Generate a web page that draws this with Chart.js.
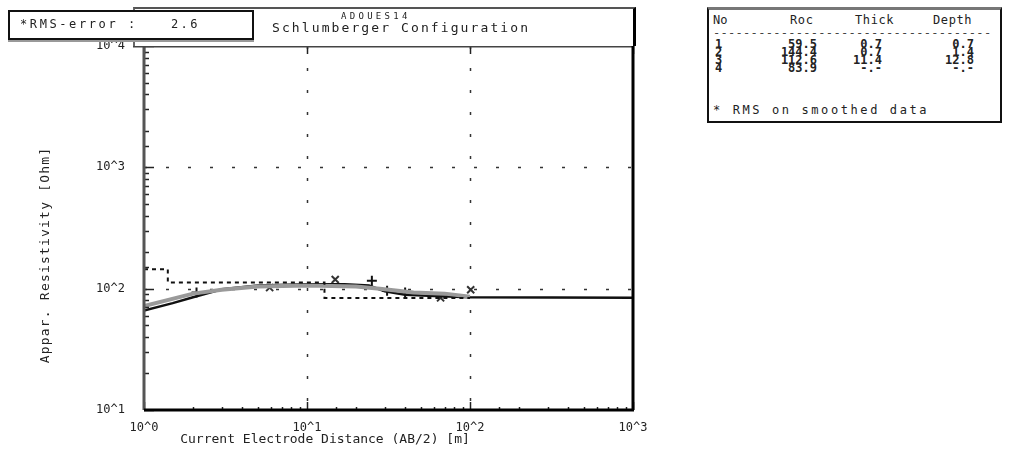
<!DOCTYPE html>
<html>
<head>
<meta charset="utf-8">
<script src="https://cdn.jsdelivr.net/npm/chart.js@4.4.1/dist/chart.umd.min.js"></script>
<style>
    body { margin: 0; background: #fff; }
    #wrap { position: relative; width: 1011px; height: 450px; overflow: hidden;
            font-family: "DejaVu Sans Mono", monospace; color: #222; }
    #wrap canvas { position: absolute; left: 0; top: 0; }
    .abs { position: absolute; white-space: pre; }
    #head { left: 133px; top: 7px; width: 498px; height: 37px; background: #fff;
            border-top: 2px solid #555; border-left: 2px solid #666; border-right: 3px solid #000; }
    #rms { left: 8px; top: 10px; width: 242px; height: 26px; background: #fff;
           border: 2px solid #111; box-shadow: 0 2px 0 #999; }
    #table { left: 707px; top: 7px; width: 291px; height: 111px; background: #fff;
             border-top: 3px solid #777; border-left: 2px solid #111; border-right: 2px solid #111; border-bottom: 2px solid #111; }
</style>
</head>
<body>
<div id="wrap">
    <canvas id="chart" width="1011" height="450"></canvas>
    <div id="head" class="abs">
        <div class="abs" style="left:206px;top:2px;font-size:9px;letter-spacing:3.3px;">ADOUES14</div>
        <div class="abs" style="left:137px;top:11px;font-size:13px;letter-spacing:2.1px;">Schlumberger Configuration</div>
    </div>
    <div id="rms" class="abs">
        <div class="abs" style="left:10px;top:5px;font-size:12px;letter-spacing:2.6px;">*RMS-error :</div>
        <div class="abs" style="left:161px;top:5px;font-size:12px;letter-spacing:2.4px;">2.6</div>
    </div>
    <div id="table" class="abs"></div>
</div>
<script>
// Layer model (from the result table)
const layerNo = [1, 2, 3, 4];
const layerRes = [59.5, 144.4, 112.6, 83.9];
const layerThick = [0.7, 0.7, 11.4, null];
const layerDepth = [0.7, 1.4, 12.8, null];

// Calculated sounding curve
const modelAB = [1, 1.5, 2, 3, 5, 10, 17, 24, 30, 40, 60, 100, 1000];
const modelRho = [66, 76, 85, 99, 106, 109, 109, 106, 95, 89, 87, 85, 84];

// Smoothed field data
const smoothAB = [1, 2, 3, 5, 10, 20, 28, 45, 70, 100];
const smoothRho = [72, 91, 98, 104, 106, 104, 100, 93, 91, 86];

// Measured points
const crossAB = [5.9, 14.9, 66, 101];
const crossRho = [102, 119, 84, 98];
const plusAB = [2.1, 25, 31, 40];
const plusRho = [93, 116, 96, 93];

const xTickText = ['10^0', '10^1', '10^2', '10^3'];
const yTickText = ['10^1', '10^2', '10^3', '10^4'];

const FONT = '"DejaVu Sans Mono", monospace';

function pts(xs, ys) {
    return xs.map((v, i) => ({ x: v, y: ys[i] }));
}

function isDecade(v) {
    const e = Math.log10(v);
    return Math.abs(e - Math.round(e)) < 1e-9;
}

// Step line of the layered model, starting at AB/2 = 1
function layerSteps() {
    const out = [];
    let k = 0;
    while (layerDepth[k] != null && layerDepth[k] <= 1) k++;
    out.push({ x: 1, y: layerRes[k] });
    for (let i = k; i < layerDepth.length; i++) {
        if (layerDepth[i] == null) break;
        out.push({ x: layerDepth[i], y: layerRes[i + 1] });
    }
    out.push({ x: 100, y: layerRes[layerRes.length - 1] });
    return out;
}

// Result table
(function buildTable() {
    const t = document.getElementById('table');
    let html = '';
    html += '<div class="abs" style="left:4px;top:3px;font-size:12px;">No</div>';
    html += '<div class="abs" style="left:81px;top:3px;font-size:12px;letter-spacing:0.6px;">Roc</div>';
    html += '<div class="abs" style="left:146px;top:3px;font-size:12px;letter-spacing:0.6px;">Thick</div>';
    html += '<div class="abs" style="left:224px;top:3px;font-size:12px;letter-spacing:0.6px;">Depth</div>';
    html += '<div class="abs" style="left:4px;top:16px;font-size:12px;letter-spacing:0.3px;color:#444;">' + '-'.repeat(37) + '</div>';
    const fmt = v => v == null ? '-.-' : v.toFixed(1);
    layerNo.forEach((n, i) => {
        const top = 28 + i * 8;
        const st = 'top:' + top + 'px;font-size:12px;line-height:12px;font-weight:bold;';
        html += '<div class="abs" style="left:6px;' + st + '">' + n + '</div>';
        html += '<div class="abs" style="right:183px;' + st + '">' + fmt(layerRes[i]) + '</div>';
        html += '<div class="abs" style="right:118px;' + st + '">' + fmt(layerThick[i]) + '</div>';
        html += '<div class="abs" style="right:26px;' + st + '">' + fmt(layerDepth[i]) + '</div>';
    });
    html += '<div class="abs" style="left:4px;top:93px;font-size:12px;letter-spacing:2.6px;">* RMS on smoothed data</div>';
    t.innerHTML = html;
})();

const framePlugin = {
    id: 'frame',
    beforeDatasetsDraw(chart) {
        const { ctx, chartArea: a, scales: { x, y } } = chart;
        ctx.save();
        ctx.strokeStyle = '#333';
        ctx.lineWidth = 1.5;
        ctx.setLineDash([3, 19]);
        x.ticks.forEach(t => {
            if (!isDecade(t.value) || t.value <= x.min || t.value >= x.max) return;
            const px = Math.round(x.getPixelForValue(t.value)) + 0.5;
            ctx.beginPath(); ctx.moveTo(px, a.top); ctx.lineTo(px, a.bottom); ctx.stroke();
        });
        y.ticks.forEach(t => {
            if (!isDecade(t.value) || t.value <= y.min || t.value >= y.max) return;
            const py = Math.round(y.getPixelForValue(t.value)) + 0.5;
            ctx.beginPath(); ctx.moveTo(a.left, py); ctx.lineTo(a.right, py); ctx.stroke();
        });
        ctx.restore();
    },
    afterDatasetsDraw(chart) {
        const { ctx, chartArea: a, scales: { x, y } } = chart;
        ctx.save();
        // minor ticks
        ctx.strokeStyle = '#222';
        ctx.lineWidth = 1.5;
        y.ticks.forEach(t => {
            const py = Math.round(y.getPixelForValue(t.value)) + 0.5;
            const len = isDecade(t.value) ? 10 : 5;
            ctx.beginPath(); ctx.moveTo(a.left, py); ctx.lineTo(a.left + len, py); ctx.stroke();
        });
        x.ticks.forEach(t => {
            const px = Math.round(x.getPixelForValue(t.value)) + 0.5;
            const len = isDecade(t.value) ? 8 : 3;
            ctx.beginPath(); ctx.moveTo(px, a.bottom); ctx.lineTo(px, a.bottom - len); ctx.stroke();
            if (isDecade(t.value)) {
                ctx.beginPath(); ctx.moveTo(px, a.top); ctx.lineTo(px, a.top + 8); ctx.stroke();
            }
        });
        // frame
        ctx.lineWidth = 3;
        ctx.strokeStyle = '#555';
        ctx.beginPath(); ctx.moveTo(a.left, a.top - 4); ctx.lineTo(a.left, a.bottom); ctx.stroke();
        ctx.strokeStyle = '#444';
        ctx.beginPath(); ctx.moveTo(133, a.top); ctx.lineTo(a.right, a.top); ctx.stroke();
        ctx.strokeStyle = '#000';
        ctx.beginPath(); ctx.moveTo(a.left, a.bottom); ctx.lineTo(a.right + 1, a.bottom); ctx.stroke();
        ctx.beginPath(); ctx.moveTo(a.right, a.top); ctx.lineTo(a.right, a.bottom); ctx.stroke();
        ctx.restore();
    },
    afterDraw(chart) {
        const { ctx } = chart;
        ctx.save();
        ctx.font = '13px ' + FONT;
        ctx.fillStyle = '#222';
        ctx.textAlign = 'center';
        ctx.textBaseline = 'middle';
        ctx.fillText('Current Electrode Distance (AB/2) [m]', 325, 440);
        ctx.translate(46, 255);
        ctx.rotate(-Math.PI / 2);
        ctx.letterSpacing = '1.2px';
        ctx.fillText('Appar. Resistivity [Ohm]', 0, 0);
        ctx.restore();
    }
};

new Chart(document.getElementById('chart'), {
    type: 'line',
    data: {
        datasets: [
            { label: 'Layers', data: layerSteps(), stepped: 'before', borderColor: '#111', borderWidth: 2,
              borderDash: [4, 4], pointRadius: 0, fill: false },
            { label: 'Smoothed', data: pts(smoothAB, smoothRho), borderColor: '#9a9a9a', borderWidth: 4,
              pointRadius: 0, fill: false, tension: 0 },
            { label: 'Model', data: pts(modelAB, modelRho), borderColor: '#111', borderWidth: 2.5,
              pointRadius: 0, fill: false, tension: 0 },
            { label: 'Data x', data: pts(crossAB, crossRho), showLine: false, pointStyle: 'crossRot',
              pointRadius: 5, borderColor: '#333', borderWidth: 2 },
            { label: 'Data +', data: pts(plusAB, plusRho), showLine: false, pointStyle: 'cross',
              pointRadius: 5, borderColor: '#111', borderWidth: 2 }
        ]
    },
    options: {
        responsive: false,
        animation: false,
        layout: { padding: { left: 0, top: 46, right: 378, bottom: 0 } },
        plugins: { legend: { display: false }, tooltip: { enabled: false } },
        scales: {
            x: {
                type: 'logarithmic', min: 1, max: 1000,
                grid: { display: false }, border: { display: false },
                ticks: {
                    autoSkip: false, maxRotation: 0, padding: 3, color: '#222',
                    font: { family: FONT, size: 12 },
                    callback: v => isDecade(v) ? xTickText[Math.round(Math.log10(v))] : ''
                },
                afterFit: s => { s.height = 40; }
            },
            y: {
                type: 'logarithmic', min: 10, max: 10000,
                grid: { display: false }, border: { display: false },
                ticks: {
                    autoSkip: false, padding: 11, color: '#222',
                    font: { family: FONT, size: 12 },
                    callback: v => isDecade(v) ? yTickText[Math.round(Math.log10(v)) - 1] : ''
                },
                afterFit: s => { s.width = 144; }
            }
        }
    },
    plugins: [framePlugin]
});
</script>
</body>
</html>
